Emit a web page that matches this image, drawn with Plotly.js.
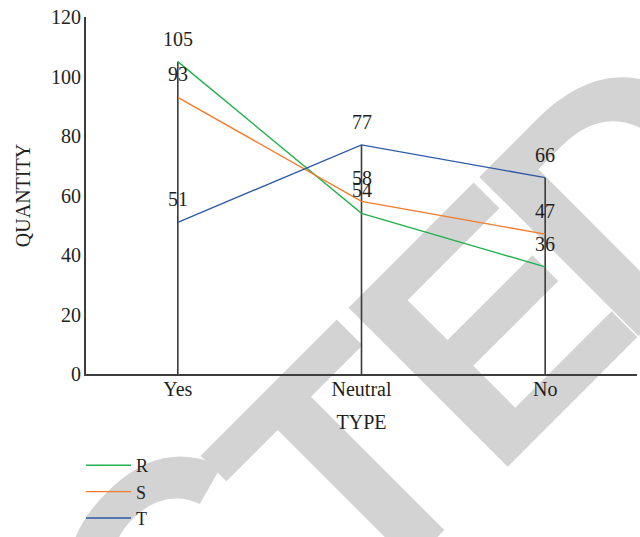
<!DOCTYPE html>
<html>
<head>
<meta charset="utf-8">
<script src="https://cdn.plot.ly/plotly-3.0.1.min.js"></script>
<style>
html, body { margin: 0; padding: 0; background: #ffffff; }
#wrap { position: relative; width: 640px; height: 537px; overflow: hidden; background: #ffffff; }
#wm { position: absolute; left: 0; top: 0; }
#chart { position: absolute; left: 0; top: 0; width: 640px; height: 537px; }
</style>
</head>
<body>
<div id="wrap">
<svg id="wm" width="640" height="537" xmlns="http://www.w3.org/2000/svg">
  <g transform="rotate(-45)" fill="#d3d3d3" font-family="'Liberation Sans', Arial, sans-serif" font-weight="bold" font-size="327">
    <text x="-430" y="689" text-anchor="end">RETRA</text>
    <text x="-398" y="652">C</text>
    <text x="-184" y="689">T</text>
    <text x="7" y="689">E</text>
    <text x="192" y="689">D</text>
  </g>
</svg>
<div id="chart"></div>
</div>
<script>
// ---- data ----
const categories = ['Yes', 'Neutral', 'No'];
const seriesNames = ['R', 'S', 'T'];
const valuesR = [105, 54, 36];
const valuesS = [93, 58, 47];
const valuesT = [51, 77, 66];
const seriesColors = ['#22b14c', '#f47b2b', '#2b5aa6'];

const allSeries = [valuesR, valuesS, valuesT];
const textColor = '#231f20';
const serif = '"Liberation Serif", "Times New Roman", serif';

// vertical drop lines from 0 to the highest value of each category
const dropX = [], dropY = [];
categories.forEach((c, i) => {
  const top = Math.max(...allSeries.map(s => s[i]));
  dropX.push(c, c, null);
  dropY.push(0, top, null);
});

const traces = [{
  type: 'scatter', mode: 'lines', x: dropX, y: dropY,
  line: { color: '#3a3a3a', width: 1.6 }, showlegend: false, hoverinfo: 'skip'
}];

allSeries.forEach((vals, k) => {
  traces.push({
    type: 'scatter', mode: 'lines', name: seriesNames[k],
    x: categories, y: vals,
    line: { color: seriesColors[k], width: 1.4 }
  });
});

const annotations = [];
allSeries.forEach(vals => {
  vals.forEach((v, i) => {
    annotations.push({
      x: categories[i], y: v, xref: 'x', yref: 'y', text: String(v),
      showarrow: false, yshift: 23, yanchor: 'middle',
      font: { family: serif, size: 20, color: textColor }
    });
  });
});

const layout = {
  width: 640, height: 537,
  margin: { l: 86, r: 3, t: 17, b: 163 },
  paper_bgcolor: 'rgba(0,0,0,0)',
  plot_bgcolor: 'rgba(0,0,0,0)',
  font: { family: serif, size: 20, color: textColor },
  showlegend: true,
  xaxis: {
    type: 'category', range: [-0.5, 2.5],
    showline: true, linecolor: '#3d3d3d', linewidth: 2,
    showgrid: false, zeroline: false, ticks: '',
    ticklabelstandoff: -4,
    tickfont: { family: serif, size: 20, color: textColor },
    title: { text: 'TYPE', font: { family: serif, size: 20, color: textColor }, standoff: 16 }
  },
  yaxis: {
    range: [0, 120], dtick: 20, tick0: 0,
    showline: true, linecolor: '#3d3d3d', linewidth: 2,
    showgrid: false, zeroline: false, ticks: '',
    ticklabelstandoff: -1,
    tickfont: { family: serif, size: 20, color: textColor },
    title: { text: 'QUANTITY', font: { family: serif, size: 20, color: textColor }, standoff: 15 }
  },
  legend: {
    x: -0.009, y: 0, xref: 'paper', yref: 'container', xanchor: 'left', yanchor: 'bottom',
    bgcolor: 'rgba(0,0,0,0)',
    itemwidth: 45,
    font: { family: serif, size: 18, color: textColor },
    tracegroupgap: 0
  },
  annotations: annotations
};

Plotly.newPlot('chart', traces, layout, { displayModeBar: false, staticPlot: true });
</script>
</body>
</html>
